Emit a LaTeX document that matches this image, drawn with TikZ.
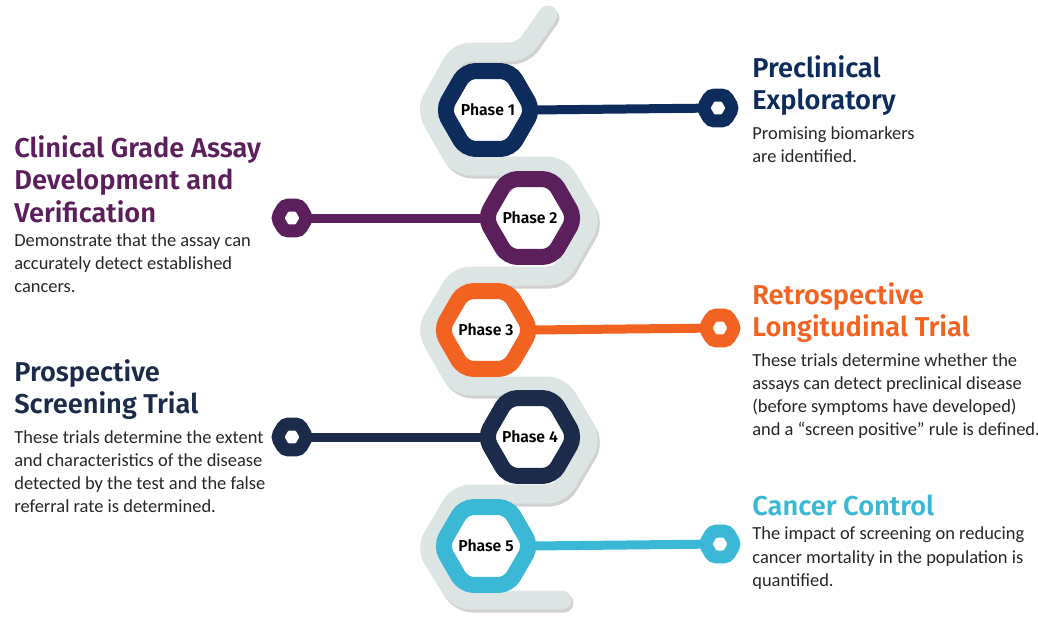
\documentclass[tikz,border=0pt]{standalone}
\usepackage{fontspec}
\setmainfont{Carlito}
\newfontfamily\headfont{Fira Sans SemiBold}
\usetikzlibrary{positioning}
\definecolor{snakegrey}{HTML}{DCE4E4}
\definecolor{phaseA}{HTML}{0E2C5B}
\definecolor{phaseB}{HTML}{5B1F5C}
\definecolor{phaseC}{HTML}{F26321}
\definecolor{phaseD}{HTML}{1C2B49}
\definecolor{phaseE}{HTML}{3AB8D6}
\tikzset{
  head/.style={anchor=north west, align=left, inner sep=0pt, font=\headfont\fontsize{15.5}{18.5}\selectfont},
  body/.style={anchor=north west, align=left, inner sep=0pt, font=\fontsize{10.5}{13.2}\selectfont, text=black!85},
  plabel/.style={font=\headfont\small},
  stem/.style={line width=0.18cm, line cap=round},
}
% ring hexagon at a named coordinate
\newcommand{\phasehex}[3]{%
  \draw [#2, line width=0.32cm, rounded corners=0.2cm]
    (#1) ++(0:0.9cm) -- ++(120:0.9cm) -- ++(180:0.9cm) -- ++(240:0.9cm) -- ++(300:0.9cm) -- ++(0:0.9cm) -- cycle;
  \draw [#2, line width=0.26cm, fill=white, rounded corners=0.08cm]
    (#3) ++(0:0.3cm) -- ++(120:0.3cm) -- ++(180:0.3cm) -- ++(240:0.3cm) -- ++(300:0.3cm) -- ++(0:0.3cm) -- cycle;
}
\begin{document}
\begin{tikzpicture}[x=0.02cm, y=-0.02cm]
  \useasboundingbox (0,0) rectangle (1038,623);

  % phase centres and stem ends
  \coordinate (p1) at (488,110);  \coordinate (e1) at (718,108);
  \coordinate (p2) at (530,218);  \coordinate (e2) at (292,218);
  \coordinate (p3) at (486,330);  \coordinate (e3) at (720,328);
  \coordinate (p4) at (530,437);  \coordinate (e4) at (292,437);
  \coordinate (p5) at (486,546);  \coordinate (e5) at (720,544);

  % grey snake
  \draw [black!18, line width=0.38cm, line cap=round, rounded corners=0.25cm, shift={(2,3)}]
    (548,15) -- (522,52) -- (458,52) -- (426,110) -- (458,166) -- (560,166) -- (592,220)
    -- (560,276) -- (458,276) -- (426,330) -- (458,386) -- (560,386) -- (592,440)
    -- (560,494) -- (458,494) -- (426,548) -- (458,600) -- (562,600);
  \draw [snakegrey, line width=0.38cm, line cap=round, rounded corners=0.25cm]
    (548,15) -- (522,52) -- (458,52) -- (426,110) -- (458,166) -- (560,166) -- (592,220)
    -- (560,276) -- (458,276) -- (426,330) -- (458,386) -- (560,386) -- (592,440)
    -- (560,494) -- (458,494) -- (426,548) -- (458,600) -- (562,600);

  % stems
  \draw [stem, phaseA] (p1) ++(45,0) -- (e1);
  \draw [stem, phaseB] (p2) ++(-45,0) -- (e2);
  \draw [stem, phaseC] (p3) ++(45,0) -- (e3);
  \draw [stem, phaseD] (p4) ++(-45,0) -- (e4);
  \draw [stem, phaseE] (p5) ++(45,0) -- (e5);

  % rings
  \phasehex{p1}{phaseA}{e1}
  \phasehex{p2}{phaseB}{e2}
  \phasehex{p3}{phaseC}{e3}
  \phasehex{p4}{phaseD}{e4}
  \phasehex{p5}{phaseE}{e5}

  \node [plabel] (l1) at (p1) {Phase 1};
  \node [plabel] (l2) at (p2) {Phase 2};
  \node [plabel] (l3) at (p3) {Phase 3};
  \node [plabel] (l4) at (p4) {Phase 4};
  \node [plabel] (l5) at (p5) {Phase 5};

  % texts
  \node [head, text=phaseA] (h1) at (752,55) {Preclinical\\Exploratory};
  \node [body] (b1) [below=0.2cm of h1.south west, anchor=north west] {Promising biomarkers\\are identified.};

  \node [head, text=phaseB] (h2) at (14,135) {Clinical Grade Assay\\Development and\\Verification};
  \node [body] (b2) [below=0.2cm of h2.south west, anchor=north west] {Demonstrate that the assay can\\accurately detect established\\cancers.};

  \node [head, text=phaseC] (h3) at (752,282) {Retrospective\\Longitudinal Trial};
  \node [body] (b3) [below=0.2cm of h3.south west, anchor=north west] {These trials determine whether the\\assays can detect preclinical disease\\(before symptoms have developed)\\and a “screen positive” rule is defined.};

  \node [head, text=phaseD] (h4) at (14,359) {Prospective\\Screening Trial};
  \node [body] (b4) [below=0.2cm of h4.south west, anchor=north west] {These trials determine the extent\\and characteristics of the disease\\detected by the test and the false\\referral rate is determined.};

  \node [head, text=phaseE] (h5) at (752,495) {Cancer Control};
  \node [body] (b5) [below=0.2cm of h5.south west, anchor=north west] {The impact of screening on reducing\\cancer mortality in the population is\\quantified.};
\end{tikzpicture}
\end{document}
